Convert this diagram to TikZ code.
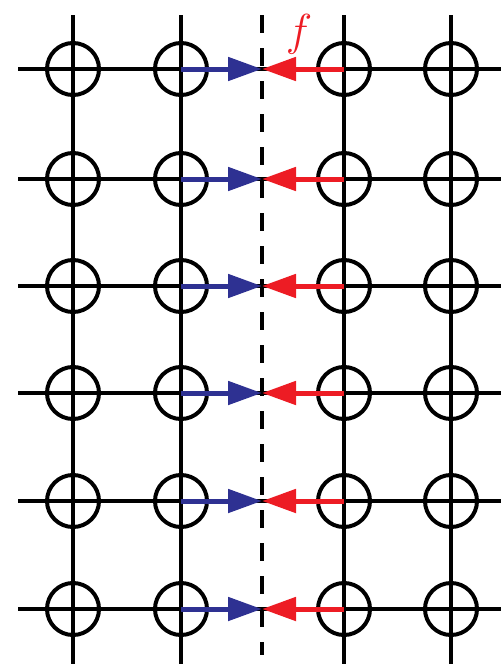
\documentclass[tikz,border=0pt]{standalone}
\usetikzlibrary{arrows.meta}
\definecolor{myblue}{RGB}{46,49,146}
\definecolor{myred}{RGB}{237,28,36}
\tikzset{
  site/.style={circle,draw=black,line width=4pt,minimum size=52pt,inner sep=0pt},
  bond/.style={draw=black,line width=4.5pt},
  cut/.style={draw=black,line width=4pt,dash pattern=on 18pt off 15pt},
  flow/.style={line width=5pt,-{Triangle[length=34pt,width=23pt]}}
}
\begin{document}
\begin{tikzpicture}[x=1pt,y=-1pt]
\useasboundingbox (0,0) rectangle (501,664);
% vertical bonds
\foreach \x/\i in {73/1,181/2,344/3,451/4}{
  \coordinate (vt\i) at (\x,15);
  \coordinate (vb\i) at (\x,664);
  \draw[bond] (vt\i) -- (vb\i);
}
% horizontal bonds and sites
\foreach \y/\j in {69/1,179/2,286/3,393/4,501/5,609/6}{
  \coordinate (hl\j) at (18,\y);
  \coordinate (hr\j) at (501,\y);
  \draw[bond] (hl\j) -- (hr\j);
  \foreach \x/\i in {73/1,181/2,344/3,451/4}{
    \node[site] (c-\i-\j) at (\x,\y) {};
  }
}
% cut line
\coordinate (dt) at (262,15);
\coordinate (db) at (262,655);
\draw[cut] (dt) -- (db);
% flows
\foreach \y/\j in {69/1,179/2,286/3,393/4,501/5,609/6}{
  \coordinate (m\j) at (262,\y);
  \draw[flow,myblue] (c-2-\j.center) -- (m\j);
  \draw[flow,myred] (c-3-\j.center) -- (m\j);
}
\node[text=myred,font=\Huge,scale=1.8,inner sep=0pt] (f) at (299,34) {$f$};
\end{tikzpicture}
\end{document}
